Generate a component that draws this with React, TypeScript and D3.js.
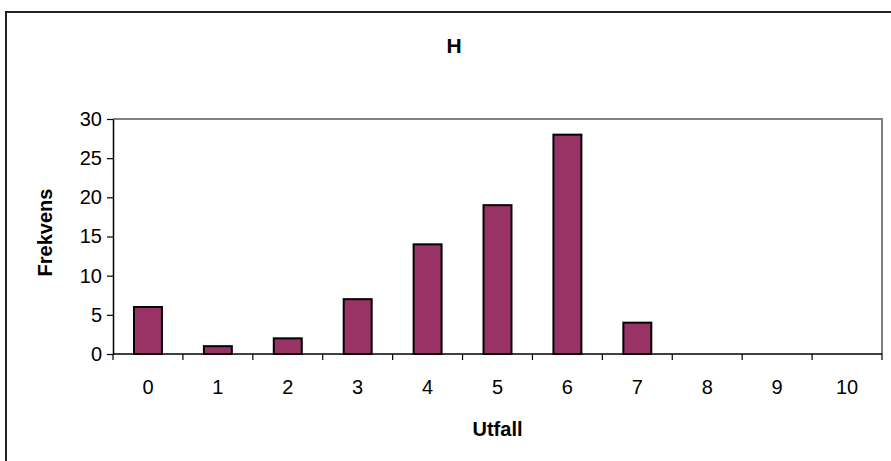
import React, { useEffect, useRef } from "react";
import * as d3 from "d3";

const outcomes = ["0", "1", "2", "3", "4", "5", "6", "7", "8", "9", "10"];
const frequencies = [6, 1, 2, 7, 14, 19, 28, 4, 0, 0, 0];
const yTicks = [0, 5, 10, 15, 20, 25, 30];

const title = "H";
const xTitle = "Utfall";
const yTitle = "Frekvens";

export default function App() {
  const svgRef = useRef<SVGSVGElement>(null);

  useEffect(() => {
    const width = 891;
    const height = 461;
    const margin = { top: 119, right: 9, bottom: 107, left: 113 };
    const font = "Arial, 'Liberation Sans', sans-serif";

    const root = d3.select(svgRef.current);
    root.selectAll("*").remove();

    // outer chart border (clipped at right and bottom like the original)
    root
      .append("rect")
      .attr("x", 6)
      .attr("y", 12)
      .attr("width", width + 20)
      .attr("height", height + 20)
      .attr("fill", "#fff")
      .attr("stroke", "#222")
      .attr("stroke-width", 2);

    const x = d3
      .scaleBand()
      .domain(outcomes)
      .range([margin.left, width - margin.right])
      .padding(0);

    const y = d3
      .scaleLinear()
      .domain([0, 30])
      .range([height - margin.bottom, margin.top]);

    const x0 = margin.left;
    const x1 = width - margin.right;
    const yTop = margin.top;
    const yBot = height - margin.bottom;

    // gray plot frame (top and right)
    root
      .append("path")
      .attr("d", `M${x0},${yTop}H${x1}V${yBot}`)
      .attr("fill", "none")
      .attr("stroke", "#808080")
      .attr("stroke-width", 2);

    // bars
    const barW = x.bandwidth() * 0.4;
    root
      .append("g")
      .selectAll("rect")
      .data(frequencies)
      .join("rect")
      .attr("x", (d, i) => x(outcomes[i])! + (x.bandwidth() - barW) / 2)
      .attr("y", (d) => y(d))
      .attr("width", barW)
      .attr("height", (d) => yBot - y(d))
      .attr("fill", (d) => (d > 0 ? "#993366" : "none"))
      .attr("stroke", (d) => (d > 0 ? "#000" : "none"))
      .attr("stroke-width", 2);

    // y axis
    const yAxis = root
      .append("g")
      .attr("transform", `translate(${x0},0)`)
      .call(
        d3
          .axisLeft(y)
          .tickValues(yTicks)
          .tickSize(6)
          .tickPadding(5)
          .tickSizeOuter(0)
      );
    yAxis.select(".domain").attr("stroke", "#000").attr("stroke-width", 1.5);
    yAxis.selectAll(".tick line").attr("stroke", "#000").attr("stroke-width", 1.2);
    yAxis
      .selectAll(".tick text")
      .attr("font-family", font)
      .attr("font-size", 20)
      .attr("fill", "#000");

    // x axis: ticks at category boundaries
    const xAxis = root.append("g").attr("transform", `translate(0,${yBot})`);
    xAxis
      .append("line")
      .attr("x1", x0)
      .attr("x2", x1)
      .attr("stroke", "#000")
      .attr("stroke-width", 1.5);
    const bounds = outcomes.map((c) => x(c)!).concat([x1]);
    xAxis
      .selectAll(".bt")
      .data(bounds)
      .join("line")
      .attr("class", "bt")
      .attr("x1", (d) => d)
      .attr("x2", (d) => d)
      .attr("y1", 0)
      .attr("y2", 6)
      .attr("stroke", "#000")
      .attr("stroke-width", 1.2);
    xAxis
      .selectAll("text")
      .data(outcomes)
      .join("text")
      .attr("x", (d) => x(d)! + x.bandwidth() / 2)
      .attr("y", 40)
      .attr("text-anchor", "middle")
      .attr("font-family", font)
      .attr("font-size", 20)
      .attr("fill", "#000")
      .text((d) => d);

    // titles
    root
      .append("text")
      .attr("x", 454)
      .attr("y", 53)
      .attr("text-anchor", "middle")
      .attr("font-family", font)
      .attr("font-weight", "bold")
      .attr("font-size", 21)
      .text(title);

    root
      .append("text")
      .attr("x", (x0 + x1) / 2)
      .attr("y", 436)
      .attr("text-anchor", "middle")
      .attr("font-family", font)
      .attr("font-weight", "bold")
      .attr("font-size", 20)
      .text(xTitle);

    root
      .append("text")
      .attr("transform", `translate(52,${(yTop + yBot) / 2 - 4}) rotate(-90)`)
      .attr("text-anchor", "middle")
      .attr("font-family", font)
      .attr("font-weight", "bold")
      .attr("font-size", 20)
      .text(yTitle);
  }, []);

  return (
    <div style={{ position: "absolute", left: 0, top: 0 }}>
      <svg ref={svgRef} width={891} height={461} style={{ display: "block" }} />
    </div>
  );
}
